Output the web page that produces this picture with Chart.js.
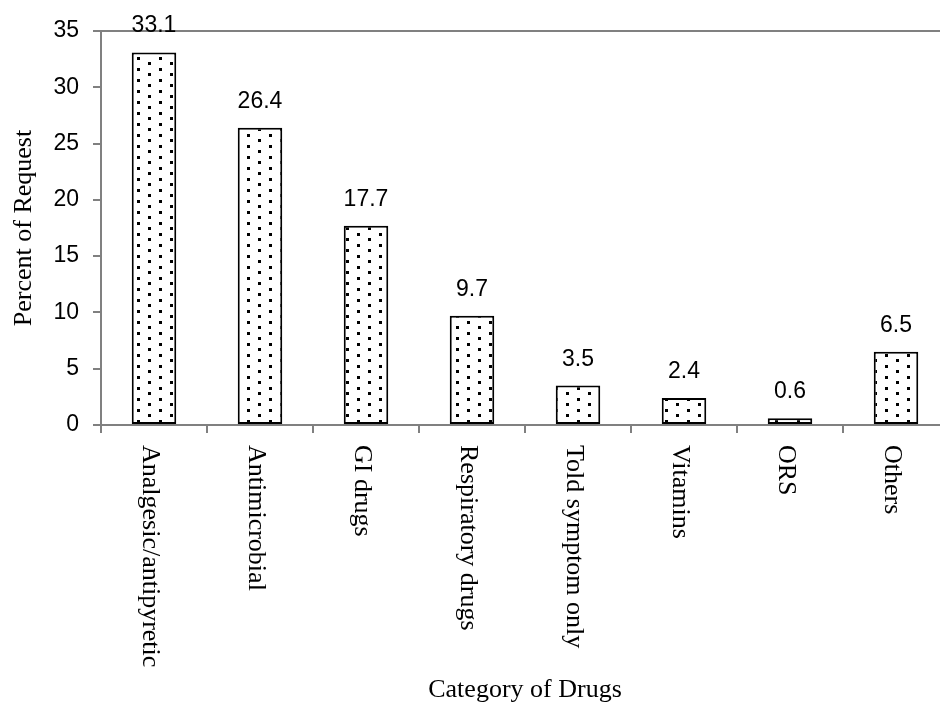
<!DOCTYPE html>
<html>
<head>
<meta charset="utf-8">
<script src="https://cdn.jsdelivr.net/npm/chart.js@4.4.1/dist/chart.umd.min.js"></script>
<style>
  body { margin: 0; background: #fff; }
  #wrap { width: 940px; height: 704px; overflow: hidden; }
</style>
</head>
<body>
<div id="wrap"><canvas id="myChart" width="960" height="704"></canvas></div>
<script>
// data
const categories = ["Analgesic/antipyretic", "Antimicrobial", "GI drugs", "Respiratory drugs",
  "Told symptom only", "Vitamins", "ORS", "Others"];
const percents = [33.1, 26.4, 17.7, 9.7, 3.5, 2.4, 0.6, 6.5];
const yTicks = [0, 5, 10, 15, 20, 25, 30, 35];
const xTitle = "Category of Drugs";
const yTitle = "Percent of Request";

const GRAY = "#808080";
const SANS = "'Liberation Sans', Arial, sans-serif";
const SERIF = "'Liberation Serif', 'Times New Roman', serif";

// dotted fill like the original
function dotPattern() {
    const c = document.createElement("canvas");
    c.width = 22; c.height = 11;
    const g = c.getContext("2d");
    g.fillStyle = "#fff";
    g.fillRect(0, 0, 22, 11);
    g.fillStyle = "#000";
    g.fillRect(5, 2, 3, 3);
    g.fillRect(16, 7, 3, 3);
    return g.createPattern(c, "repeat");
}

// value labels, rotated category labels and axis titles
const textPlugin = {
    id: "texts",
    afterDatasetsDraw(chart) {
        const ctx = chart.ctx;
        const meta = chart.getDatasetMeta(0);
        const xs = chart.scales.x, ys = chart.scales.y;
        ctx.save();
        ctx.fillStyle = "#000";
        ctx.font = "23px " + SANS;
        ctx.textAlign = "center";
        ctx.textBaseline = "alphabetic";
        meta.data.forEach((bar, i) => {
            ctx.fillText(String(percents[i]), bar.x, bar.y - 20);
        });

        ctx.font = "26px " + SERIF;
        ctx.textAlign = "left";
        ctx.textBaseline = "middle";
        categories.forEach((c, i) => {
            ctx.save();
            ctx.translate(xs.getPixelForValue(i) - 4, ys.bottom + 20);
            ctx.rotate(Math.PI / 2);
            ctx.fillText(c, 0, 0);
            ctx.restore();
        });

        ctx.textAlign = "center";
        ctx.fillText(xTitle, (xs.left + xs.right) / 2, 690);
        ctx.save();
        ctx.translate(24, (ys.top + ys.bottom) / 2);
        ctx.rotate(-Math.PI / 2);
        ctx.fillText(yTitle, 0, 0);
        ctx.restore();
        ctx.restore();
    }
};

window.onload = function() {
    const ctx = document.getElementById("myChart").getContext("2d");
    new Chart(ctx, {
        type: "bar",
        data: {
            labels: categories,
            datasets: [{
                data: percents,
                backgroundColor: dotPattern(),
                borderColor: "#000",
                borderWidth: 2,
                borderSkipped: false,
                barPercentage: 0.42,
                categoryPercentage: 1.0,
            }],
        },
        options: {
            responsive: false,
            animation: false,
            devicePixelRatio: 1,
            layout: { padding: { top: 31, right: 11, bottom: 0, left: 0 } },
            plugins: { legend: { display: false }, tooltip: { enabled: false } },
            scales: {
                x: {
                    offset: true,
                    grid: { offset: true, drawOnChartArea: false, tickColor: GRAY, tickLength: 8, lineWidth: 2 },
                    border: { color: GRAY, width: 2 },
                    ticks: { display: false },
                    afterFit: (s) => { s.height = 704 - 425; },
                },
                y: {
                    min: 0, max: 35,
                    afterBuildTicks: (s) => { s.ticks = yTicks.map(v => ({ value: v })); },
                    grid: {
                        color: (c) => (c.tick && c.tick.value === 35 ? GRAY : "transparent"),
                        tickColor: GRAY, tickLength: 8, lineWidth: 2,
                    },
                    border: { color: GRAY, width: 2 },
                    ticks: {
                        color: "#000", padding: 14,
                        font: { family: SANS, size: 23 },
                    },
                    afterFit: (s) => { s.width = 101; },
                },
            },
        },
        plugins: [textPlugin],
    });
};
</script>
</body>
</html>
